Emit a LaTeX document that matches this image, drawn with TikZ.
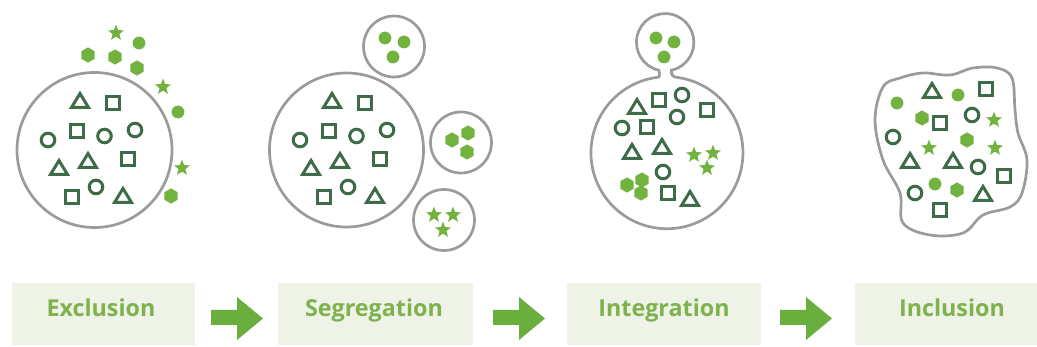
\documentclass[tikz,border=0pt]{standalone}
\usepackage{fontspec}
\setmainfont{Open Sans}
\definecolor{dkgreen}{HTML}{3E6B48}
\definecolor{ltgreen}{HTML}{72B340}
\definecolor{ringgray}{HTML}{9B9B9B}
\definecolor{boxfill}{HTML}{EEF2E7}
\definecolor{txtgreen}{HTML}{7DB24C}
\definecolor{arrowgreen}{HTML}{6AAF3D}
\tikzset{
  dk/.style={draw=dkgreen,line width=3pt,line join=miter},
  lg/.style={fill=ltgreen},
  outline/.style={draw=ringgray,line width=2.7pt},
  sq/.pic={\draw[dk] (-6.2,-6.2) rectangle (6.2,6.2);},
  tri/.pic={\draw[dk] (-8.5,5.5) -- (8.5,5.5) -- (0,-8.5) -- cycle;},
  ring/.pic={\draw[dk] (0,0) circle[radius=6.8];},
  dotp/.pic={\fill[lg] (0,0) circle[radius=6.4];},
  hexp/.pic={\fill[lg] (30:7.6) -- (90:7.6) -- (150:7.6) -- (210:7.6) -- (270:7.6) -- (330:7.6) -- cycle;},
  starp/.pic={\fill[lg] (-90:8.4) -- (-54:3.6) -- (-18:8.4) -- (18:3.6) -- (54:8.4) -- (90:3.6) -- (126:8.4) -- (162:3.6) -- (198:8.4) -- (234:3.6) -- cycle;},
  stagebox/.style={fill=boxfill,minimum height=62pt,inner sep=0pt},
  stagetext/.style={text=txtgreen,font=\bfseries\fontsize{23.3}{26}\selectfont,anchor=base,inner sep=0pt},
  blockarrow/.style={fill=arrowgreen}
}
\newcommand\MyInnerSet{%
  \pic at (-14.5,-48) {tri};
  \pic at (18.5,-47) {sq};
  \pic at (-46.5,-10) {ring};
  \pic at (-17.5,-19) {sq};
  \pic at (10,-14) {ring};
  \pic at (40.5,-20) {ring};
  \pic at (-6.5,12) {tri};
  \pic at (33.5,9) {sq};
  \pic at (-35.5,19) {tri};
  \pic at (1.5,37) {ring};
  \pic at (-22.5,47) {sq};
  \pic at (28.5,47) {tri};
}
\begin{document}
\begin{tikzpicture}[x=1pt,y=-1pt]
\useasboundingbox (0,0) rectangle (1037,347);
% ---------- Exclusion ----------
\draw[outline] (94.5,150) circle[radius=77.5];
\begin{scope}[shift={(94.5,150)}]\MyInnerSet\end{scope}
\pic at (116,33) {starp};
\pic at (139,43) {dotp};
\pic at (88,55) {hexp};
\pic at (115,57) {hexp};
\pic at (137,68) {hexp};
\pic at (163,87) {starp};
\pic at (178,112) {dotp};
\pic at (182,168) {starp};
\pic at (171,196) {hexp};
% ---------- Segregation ----------
\draw[outline] (346.5,150) circle[radius=77];
\begin{scope}[shift={(346.5,150)}]\MyInnerSet\end{scope}
\draw[outline] (394,46.5) circle[radius=30.5];
\pic at (385,38) {dotp};
\pic at (404,42) {dotp};
\pic at (393,57) {dotp};
\draw[outline] (461,142.5) circle[radius=30.5];
\pic at (468,133) {hexp};
\pic at (452,140) {hexp};
\pic at (467,152) {hexp};
\draw[outline] (444,220) circle[radius=30.5];
\pic at (434,215) {starp};
\pic at (453,215) {starp};
\pic at (443,230) {starp};
% ---------- Integration ----------
% small circle centre (665,43) r 28; big circle centre (667,153) r 76
\draw[outline] (659,70.3) arc[start angle=102.4,end angle=437.6,radius=28.7]
  .. controls (671,74.5) and (673,77.4) .. (677,77.4)
  arc[start angle=-82.4,end angle=262.4,radius=76]
  .. controls (661,77.4) and (659,74.5) .. (659,70.3) -- cycle;
\pic at (656,38) {dotp};
\pic at (674,42) {dotp};
\pic at (664,57) {dotp};
\pic at (637,108) {tri};
\pic at (659,100) {sq};
\pic at (682,95) {ring};
\pic at (677,117) {ring};
\pic at (707,110) {sq};
\pic at (622,128) {ring};
\pic at (647,127) {sq};
\pic at (632,153) {tri};
\pic at (662,148) {tri};
\pic at (694,155) {starp};
\pic at (713,153) {starp};
\pic at (707,168) {starp};
\pic at (663,172) {ring};
\pic at (627,185) {hexp};
\pic at (642,180) {hexp};
\pic at (641,193) {hexp};
\pic at (668,193) {sq};
\pic at (690,200) {tri};
% ---------- Inclusion ----------
\draw[outline] plot[smooth cycle,tension=0.6] coordinates {
  (883,87) (900,78) (923,73) (950,75) (973,68) (997,68) (1012,78)
  (1015,110) (1018,133) (1027,160) (1022,193) (1010,207) (983,215)
  (963,233) (930,235) (903,223) (900,193) (883,160) (875,120)};
\pic at (932,92) {tri};
\pic at (958,95) {dotp};
\pic at (986,89) {sq};
\pic at (897,103) {dotp};
\pic at (922,118) {hexp};
\pic at (940,123) {sq};
\pic at (972,115) {ring};
\pic at (994,120) {starp};
\pic at (893,137) {ring};
\pic at (929,148) {starp};
\pic at (967,140) {hexp};
\pic at (995,148) {starp};
\pic at (910,162) {tri};
\pic at (953,162) {tri};
\pic at (978,167) {ring};
\pic at (1004,176) {sq};
\pic at (915,193) {ring};
\pic at (935,184) {dotp};
\pic at (957,190) {hexp};
\pic at (983,195) {tri};
\pic at (940,210) {sq};
% ---------- Stage boxes ----------
\node[stagebox,minimum width=183pt] (b1) at (103.5,314) {};
\node[stagebox,minimum width=195pt] (b2) at (375.5,314) {};
\node[stagebox,minimum width=194pt] (b3) at (664,314) {};
\node[stagebox,minimum width=182pt] (b4) at (946,314) {};
\node[stagetext] (t1) at (101,317) {Exclusion};
\node[stagetext] (t2) at (374,317) {Segregation};
\node[stagetext] (t3) at (664,317) {Integration};
\node[stagetext] (t4) at (952,317) {Inclusion};
% ---------- Block arrows ----------
\foreach \dx in {0,282,569}{
  \begin{scope}[xshift=\dx]
    \fill[blockarrow] (211,310) -- (237,310) -- (237,297) -- (263,318.5)
      -- (237,340) -- (237,325) -- (211,325) -- cycle;
  \end{scope}
}
\end{tikzpicture}
\end{document}
